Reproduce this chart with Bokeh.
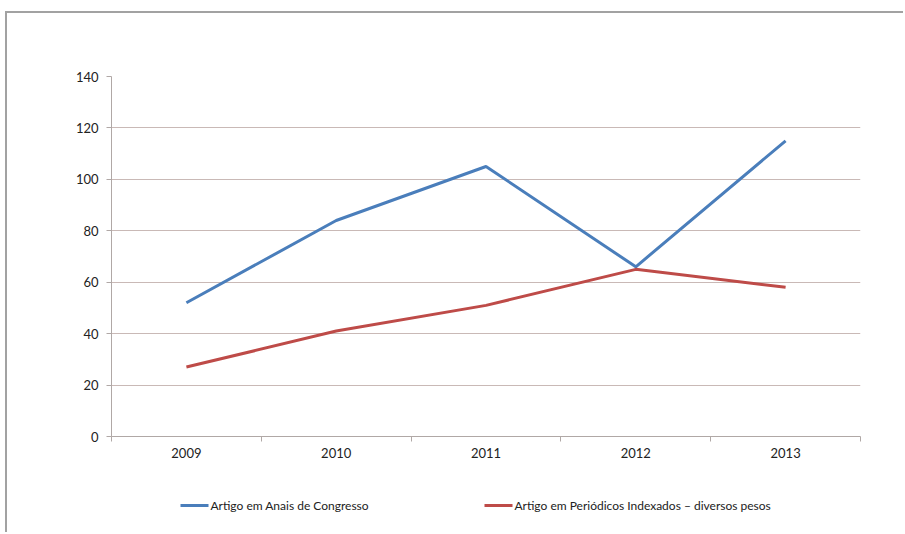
from bokeh.plotting import figure
from bokeh.models import FixedTicker, Range1d
from bokeh.layouts import column
from bokeh.core.properties import value
from bokeh.embed import file_html
from bokeh.resources import INLINE

years = ["2009", "2010", "2011", "2012", "2013"]
anais = [52, 84, 105, 66, 115]
periodicos = [27, 41, 51, 65, 58]
y_ticks = [0, 20, 40, 60, 80, 100, 120, 140]
label_anais = "Artigo em Anais de Congresso"
label_periodicos = "Artigo em Periódicos Indexados – diversos pesos"

FONT = "Lato"
BLUE = "#4a7ebb"
RED = "#be4b48"
W = 898

xpos = [i + 0.5 for i in range(len(years))]
bounds = [i for i in range(len(years) + 1)]

p = figure(width=W, height=453, x_range=Range1d(0, len(years)),
           y_range=Range1d(0, 140), output_backend="svg", toolbar_location=None,
           min_border_left=104, min_border_right=W - 104 - 749, min_border_top=63, min_border_bottom=30)
p.outline_line_color = None
p.background_fill_color = "white"
p.border_fill_color = "white"

p.line(xpos, anais, line_color=BLUE, line_width=3)
p.line(xpos, periodicos, line_color=RED, line_width=3)

p.yaxis.ticker = FixedTicker(ticks=y_ticks)
p.xaxis.ticker = FixedTicker(ticks=xpos, minor_ticks=bounds)
p.xaxis.major_label_overrides = {x: y for x, y in zip(xpos, years)}
p.ygrid.grid_line_color = "#c9b9b6"
p.ygrid.grid_line_width = 1
p.xgrid.grid_line_color = None

for ax in (p.xaxis[0], p.yaxis[0]):
    ax.axis_line_color = "#b0a8a6"
    ax.major_tick_line_color = "#b0a8a6"
    ax.minor_tick_line_color = None
    ax.major_label_text_font = FONT
    ax.major_label_text_font_size = "13px"
    ax.major_label_text_color = "#222222"
    ax.major_tick_in = 0
    ax.major_tick_out = 5
p.xaxis.major_tick_line_color = None
p.xaxis.minor_tick_line_color = "#b0a8a6"
p.xaxis.minor_tick_in = 0
p.xaxis.minor_tick_out = 5
p.xaxis.major_label_standoff = 6
p.yaxis.major_label_standoff = 8

# legend strip below the chart (frame aligned with main frame: screen x 111..860)
lg = figure(width=W, height=68, x_range=Range1d(111, 860), y_range=Range1d(68, 0),
            output_backend="svg", toolbar_location=None,
            x_axis_location=None, y_axis_location=None,
            min_border_left=104, min_border_right=W - 104 - 749, min_border_top=0, min_border_bottom=0)
lg.grid.visible = False
lg.outline_line_color = None
lg.background_fill_color = "white"
lg.border_fill_color = "white"

legend_labels = [label_anais, label_periodicos]
legend_colors = [BLUE, RED]
legend_x = [180, 484]
for lx, lab, col in zip(legend_x, legend_labels, legend_colors):
    lg.line([lx, lx + 28], [39, 39], line_color=col, line_width=3)
    lg.text([lx + 30], [39], text=[lab], text_font=value(FONT), text_font_size="12px",
            text_color="#222222", text_baseline="middle", text_align="left")

layout = column(p, lg, spacing=0,
                styles={"margin-left": "7px", "margin-top": "13px",
                        "box-shadow": "-2px -2px 0 0 #a2a2a2"})

open("out.html", "w").write(file_html(layout, INLINE))
